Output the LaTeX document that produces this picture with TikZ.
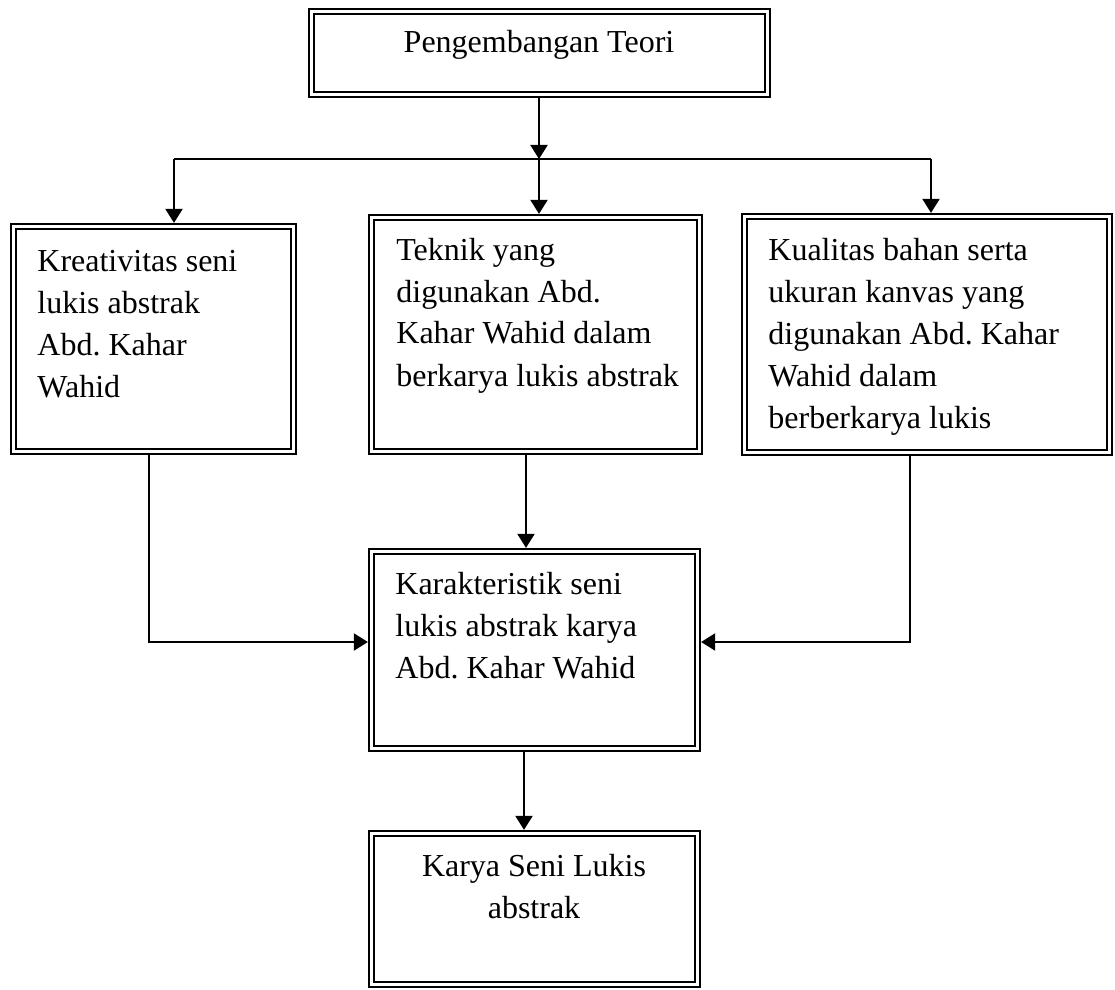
\documentclass[tikz,border=0pt]{standalone}
\usepackage{fontspec}
\setmainfont{Liberation Serif}
\usetikzlibrary{arrows.meta}
\frenchspacing
\tikzset{
  box/.style  = {draw=black, double, double distance=1.2pt, line width=1.25pt,
                 inner sep=0pt, outer sep=1.85pt},
  txt/.style  = {inner sep=0pt, align=left, font=\fontsize{16}{21}\selectfont},
  ctxt/.style = {inner sep=0pt, align=center, font=\fontsize{16}{21}\selectfont},
  flow/.style = {-{Triangle[length=7pt,width=8.5pt]}, line width=1pt},
  wire/.style = {line width=1pt},
}
\begin{document}
\begin{tikzpicture}[x=0.5pt, y=-0.5pt]
\useasboundingbox (0,0) rectangle (1115,990);

% ---- boxes ----
\node[box, minimum width=227.9pt, minimum height=41.4pt] (teori) at (539.5,53) {};
\node[box, minimum width=139.9pt, minimum height=112.4pt] (kreat) at (153.5,339) {};
\node[box, minimum width=163.9pt, minimum height=116.9pt] (teknik) at (535.5,334.5) {};
\node[box, minimum width=182.4pt, minimum height=117.9pt] (kualitas) at (927,334.5) {};
\node[box, minimum width=162.9pt, minimum height=98.4pt] (karakter) at (534.5,650) {};
\node[box, minimum width=162.9pt, minimum height=75.4pt] (karya) at (534.5,909) {};

% ---- texts (anchored at the baseline of the last line) ----
\node[ctxt, anchor=base] (teori-t) at (539,53) {Pengembangan Teori};
\node[txt, anchor=base west] (kreat-t) at (37,397)
  {Kreativitas seni\\lukis abstrak\\Abd. Kahar\\Wahid};
\node[txt, anchor=base west] (teknik-t) at (396,386)
  {Teknik yang\\digunakan Abd.\\Kahar Wahid dalam\\berkarya lukis abstrak};
\node[txt, anchor=base west] (kualitas-t) at (768,428)
  {Kualitas bahan serta\\ukuran kanvas yang\\digunakan Abd. Kahar\\Wahid dalam\\berberkarya lukis};
\node[txt, anchor=base west] (karakter-t) at (395,678)
  {Karakteristik seni\\lukis abstrak karya\\Abd. Kahar Wahid};
\node[ctxt, anchor=base] (karya-t) at (534,918) {Karya Seni Lukis\\abstrak};

% ---- connectors ----
\coordinate (busL) at (174,159);
\coordinate (busM) at (539,159);
\coordinate (busR) at (931,159);
\coordinate (kinL) at (149,642);
\coordinate (kinR) at (910,642);
\coordinate (dn1) at (526,0);
\coordinate (dn2) at (524,0);
\draw[flow] (teori.south -| busM) -- (busM);
\draw[wire] (busL) -- (busR);
\draw[flow] (busL) -- (busL |- kreat.north);
\draw[flow] (busM) -- (busM |- teknik.north);
\draw[flow] (busR) -- (busR |- kualitas.north);
\draw[flow] (kreat.south -| kinL) |- (karakter.west |- kinL);
\draw[flow] (kualitas.south -| kinR) |- (karakter.east |- kinR);
\draw[flow] (teknik.south -| dn1) -- (karakter.north -| dn1);
\draw[flow] (karakter.south -| dn2) -- (karya.north -| dn2);

\end{tikzpicture}
\end{document}
